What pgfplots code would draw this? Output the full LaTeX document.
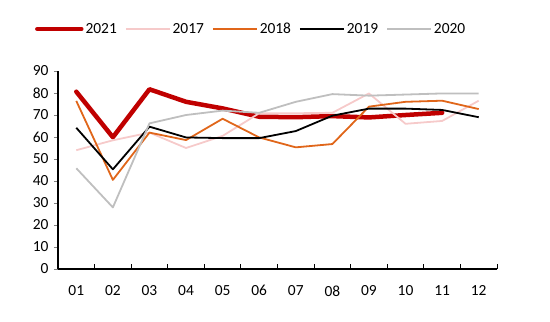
\documentclass[border=0pt]{standalone}
\usepackage{pgfplots}
\pgfplotsset{compat=1.18}
\usepackage{fontspec}
\setmainfont{Carlito}
\definecolor{c2021}{HTML}{C00000}
\definecolor{c2017}{HTML}{F6CACA}
\definecolor{c2018}{HTML}{E0661A}
\definecolor{c2019}{HTML}{000000}
\definecolor{c2020}{HTML}{BFBFBF}
\begin{document}
\begin{tikzpicture}
\useasboundingbox (-58bp,-53bp) rectangle (492bp,269bp);
\begin{axis}[
  at={(0,0)}, anchor=south west,
  scale only axis, width=439bp, height=198bp,
  xmin=0.5, xmax=12.5, ymin=0, ymax=90,
  axis lines=left, axis line style={-, line width=1.1bp},
  xtick={1,...,12},
  xticklabels={01,02,03,04,05,06,07,08,09,10,11,12},
  minor xtick={0.5,1.5,...,12.5},
  ytick={0,10,...,90},
  tick align=outside,
  major tick length=4bp,
  x tick style={draw=none},
  minor tick length=5bp,
  minor x tick style={draw=black, line width=1bp, yshift=5bp},
  y tick style={line width=1bp},
  font=\fontsize{15.5}{18}\selectfont,
  /pgf/number format/assume math mode=true,
  tick label style={font=\fontsize{15.5}{18}\selectfont},
  xticklabel style={yshift=-9bp},
  yticklabel style={xshift=-2bp},
  legend columns=5,
  legend style={draw=none, fill=none, at={(0.44,1.212)}, anchor=center,
    font=\fontsize{15.5}{18}\selectfont,
    /tikz/every even column/.append style={column sep=6bp}},
  legend image code/.code={\draw[#1] (0bp,0bp) -- (44bp,0bp);},
  every axis plot/.append style={line join=round},
]
\addplot[c2021, line width=4.5bp, line cap=round] coordinates {(1,80.6)(2,59.9)(3,81.7)(4,76)(5,73)(6,69.2)(7,69)(8,69.5)(9,68.9)(10,70)(11,71)};
\addlegendentry{2021}
\addplot[c2017, line width=1.8bp] coordinates {(1,54)(2,58.5)(3,62)(4,55)(5,60.5)(6,70.8)(7,70.8)(8,71)(9,79.8)(10,66)(11,67.3)(12,76.5)};
\addlegendentry{2017}
\addplot[c2018, line width=1.8bp] coordinates {(1,76.4)(2,40.5)(3,62)(4,58.6)(5,68.3)(6,59.8)(7,55.3)(8,56.8)(9,73.8)(10,76)(11,76.5)(12,72.7)};
\addlegendentry{2018}
\addplot[c2019, line width=1.8bp] coordinates {(1,64.2)(2,45.3)(3,64.7)(4,59.8)(5,59.5)(6,59.5)(7,62.7)(8,69.7)(9,72.9)(10,72.9)(11,72.3)(12,69)};
\addlegendentry{2019}
\addplot[c2020, line width=1.8bp] coordinates {(1,45.8)(2,28)(3,66.2)(4,70)(5,72)(6,71)(7,76)(8,79.5)(9,78.8)(10,79.3)(11,79.8)(12,79.8)};
\addlegendentry{2020}
\end{axis}
\end{tikzpicture}
\end{document}
